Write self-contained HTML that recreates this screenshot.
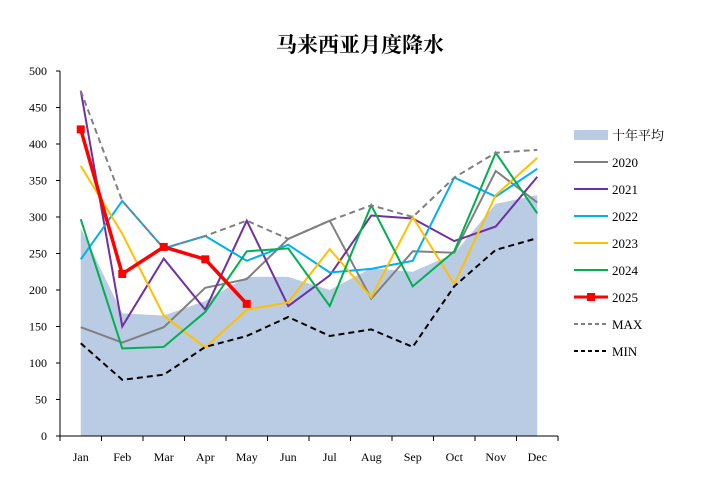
<!DOCTYPE html>
<html><head><meta charset="utf-8"><style>
body{margin:0;background:#fff;}
svg{font-family:"Liberation Serif","Noto Serif CJK SC",serif;}
</style></head><body>
<svg id="chart" width="706" height="481">
<text x="360" y="52" text-anchor="middle" font-size="21" font-weight="bold">马来西亚月度降水</text>
<g id="plot"></g>
<g id="legend"></g>
</svg>
<script>
const months=["Jan","Feb","Mar","Apr","May","Jun","Jul","Aug","Sep","Oct","Nov","Dec"];
const yTicks=[0,50,100,150,200,250,300,350,400,450,500];
const avg=[285,168,165,185,218,218,200,230,225,250,318,330];
const s2020=[149,128,149,203,215,270,295,188,253,251,363,320];
const s2021=[473,150,243,173,295,178,220,302,298,267,287,355];
const s2022=[242,322,257,274,240,262,224,229,240,354,328,366];
const s2023=[370,277,165,121,173,183,256,190,300,208,330,381];
const s2024=[297,120,122,170,253,257,178,316,205,253,388,305];
const s2025=[420,222,259,242,181];
const sMax=[473,322,257,274,295,270,295,316,300,354,388,392];
const sMin=[127,77,84,122,137,163,137,146,122,205,255,271];
const NS="http://www.w3.org/2000/svg";
const x0=60,x1=558,y0=436,y1=71;
const step=(x1-x0)/months.length;
const X=i=>x0+step*(i+0.5);
const Y=v=>y0-(v/500)*(y0-y1);
const plot=document.getElementById('plot');
function mk(t,a,p){const e=document.createElementNS(NS,t);for(const k in a)e.setAttribute(k,a[k]);(p||plot).appendChild(e);return e;}
// area
let d=`M${X(0)},${y0}`;avg.forEach((v,i)=>d+=` L${X(i)},${Y(v)}`);d+=` L${X(avg.length-1)},${y0} Z`;
const area=mk('path',{d:d,fill:'#b9cce4'});


// axes
const ya=mk('line',{x1:x0,y1:y1,x2:x0,y2:y0,stroke:'#000','stroke-width':1});


const xa=mk('line',{x1:x0,y1:y0,x2:x1,y2:y0,stroke:'#000','stroke-width':1});


yTicks.forEach(t=>{
 mk('line',{x1:x0-4,y1:Y(t),x2:x0,y2:Y(t),stroke:'#000'});
 const tx=mk('text',{x:x0-13,y:Y(t)+4,'text-anchor':'end','font-size':12});
 tx.textContent=t;
 
 
});
for(let i=0;i<=months.length;i++)mk('line',{x1:x0+step*i,y1:y0,x2:x0+step*i,y2:y0+5,stroke:'#000'});
months.forEach((m,i)=>{
 const tx=mk('text',{x:X(i),y:y0+25,'text-anchor':'middle','font-size':12});
 tx.textContent=m;
 
 
});
const series=[
 {n:'2020',d:s2020,c:'#808080',w:2,dash:''},
 {n:'2021',d:s2021,c:'#7030a0',w:2,dash:''},
 {n:'2022',d:s2022,c:'#00b0f0',w:2,dash:''},
 {n:'2023',d:s2023,c:'#ffc000',w:2,dash:''},
 {n:'2024',d:s2024,c:'#00b050',w:2,dash:''},
 {n:'MAX',d:sMax,c:'#808080',w:2,dash:'6,4'},
 {n:'MIN',d:sMin,c:'#000',w:2,dash:'6,4'},
 {n:'2025',d:s2025,c:'#ff0000',w:3.5,dash:'',mark:true}
];
series.forEach(s=>{
 const p=mk('polyline',{points:s.d.map((v,i)=>X(i)+','+Y(v)).join(' '),fill:'none',stroke:s.c,'stroke-width':s.w,'stroke-dasharray':s.dash});
 
 
 if(s.mark)s.d.forEach((v,i)=>{
  const r=mk('rect',{x:X(i)-4,y:Y(v)-4,width:8,height:8,fill:s.c});
  
  
 });
});
// legend
const lg=document.getElementById('legend');
const items=[
 {n:'十年平均',t:'area'},
 {n:'2020',c:'#808080'},{n:'2021',c:'#7030a0'},{n:'2022',c:'#00b0f0'},{n:'2023',c:'#ffc000'},{n:'2024',c:'#00b050'},
 {n:'2025',c:'#ff0000',mark:true},{n:'MAX',c:'#808080',dash:'4,3'},{n:'MIN',c:'#000',dash:'4,3'}
];
items.forEach((it,i)=>{
 const y=135+27*i;
 const g=mk('g',{},lg);
 
 
 if(it.t==='area')mk('rect',{x:574,y:y-5,width:34,height:10,fill:'#b9cce4'},g);
 else{
  mk('line',{x1:574,y1:y,x2:608,y2:y,stroke:it.c,'stroke-width':it.mark?3:2,'stroke-dasharray':it.dash||''},g);
  if(it.mark)mk('rect',{x:587,y:y-4,width:8,height:8,fill:it.c},g);
 }
 const tx=mk('text',{x:612,y:y+5,'font-size':13},g);
 tx.textContent=it.n;
});
</script>
</body></html>
